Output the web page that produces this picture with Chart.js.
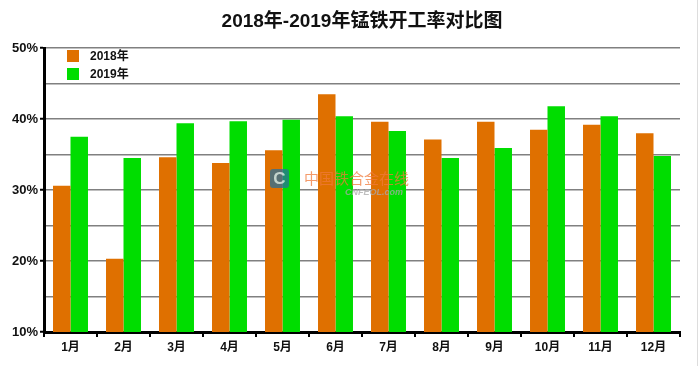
<!DOCTYPE html>
<html>
<head>
<meta charset="utf-8">
<script src="https://cdn.jsdelivr.net/npm/chart.js@4"></script>
<style>
  html, body { margin: 0; padding: 0; background: #fff; }
  #wrap { width: 700px; height: 366px; }
</style>
</head>
<body>
<div id="wrap"><canvas id="graph"></canvas></div>
<script>
// données
const mois = ['1月', '2月', '3月', '4月', '5月', '6月', '7月', '8月', '9月', '10月', '11月', '12月'];
const taux2018 = [30.6, 20.3, 34.6, 33.8, 35.6, 43.5, 39.6, 37.1, 39.6, 38.5, 39.2, 38.0];
const taux2019 = [37.5, 34.5, 39.4, 39.7, 39.9, 40.4, 38.3, 34.5, 35.9, 41.8, 40.4, 34.8];
const titre = '2018年-2019年锰铁开工率对比图';

const police = '"Liberation Sans", Arial, "Noto Sans CJK SC", sans-serif';

// titre, légende et filigrane dessinés à la main
const decor = {
    id: 'decor',
    afterDraw(chart) {
        const ctx = chart.ctx;
        const area = chart.chartArea;
        ctx.save();

        // titre centré sur la zone du graphique
        ctx.fillStyle = '#111';
        ctx.font = 'bold 19px ' + police;
        ctx.textAlign = 'center';
        ctx.textBaseline = 'middle';
        ctx.fillText(titre, (area.left + area.right) / 2, 22);

        // légende dans le coin haut gauche
        ctx.textAlign = 'left';
        ctx.font = 'bold 12px ' + police;
        chart.data.datasets.forEach((ds, i) => {
            const y = 50 + i * 18;
            ctx.fillStyle = ds.backgroundColor;
            ctx.fillRect(67, y, 12, 12);
            ctx.fillStyle = '#111';
            ctx.fillText(ds.label, 90, y + 7);
        });

        // filigrane
        ctx.globalAlpha = 0.75;
        ctx.fillStyle = '#2a6f9a';
        ctx.beginPath();
        ctx.roundRect(270, 169, 19, 19, 3);
        ctx.fill();
        ctx.fillStyle = '#e8f4ea';
        ctx.font = 'bold 17px ' + police;
        ctx.textAlign = 'center';
        ctx.fillText('C', 279.5, 179);
        ctx.fillStyle = '#f07a3a';
        ctx.font = '15px "Noto Sans CJK SC", sans-serif';
        ctx.textAlign = 'left';
        ctx.fillText('中国铁合金在线', 304, 178);
        ctx.fillStyle = '#aaa';
        ctx.font = 'italic bold 9px ' + police;
        ctx.fillText('CNFEOL.com', 345, 193);
        ctx.globalAlpha = 1;

        // bord droit
        ctx.strokeStyle = '#ddd';
        ctx.lineWidth = 1;
        ctx.beginPath();
        ctx.moveTo(697.5, 0);
        ctx.lineTo(697.5, 366);
        ctx.stroke();

        ctx.restore();
    }
};

const ctx = document.getElementById('graph').getContext('2d');
new Chart(ctx, {
    type: 'bar',
    data: {
        labels: mois,
        datasets: [
            {
                label: '2018年',
                data: taux2018,
                backgroundColor: '#df7000',
                borderWidth: 0
            },
            {
                label: '2019年',
                data: taux2019,
                backgroundColor: '#00dd00',
                borderWidth: 0
            }
        ]
    },
    options: {
        responsive: true,
        maintainAspectRatio: false,
        animation: false,
        layout: {
            padding: { top: 48, right: 20, left: 0, bottom: 0 }
        },
        datasets: {
            bar: { categoryPercentage: 0.66, barPercentage: 1 }
        },
        plugins: {
            legend: { display: false },
            title: { display: false },
            tooltip: { enabled: false }
        },
        scales: {
            x: {
                afterFit(scale) { scale.height = 34; },
                border: { color: '#000', width: 3 },
                grid: {
                    offset: true,
                    drawOnChartArea: false,
                    drawTicks: true,
                    tickLength: 5,
                    color: '#000',
                    lineWidth: 2
                },
                ticks: {
                    color: '#111',
                    padding: 3,
                    font: { family: police, size: 12, weight: 'bold' }
                }
            },
            y: {
                min: 10,
                max: 50,
                afterFit(scale) { scale.width = 44; },
                border: { color: '#000', width: 3 },
                grid: {
                    color: '#808080',
                    lineWidth: 1.5,
                    tickColor: ctx => (ctx.tick && ctx.tick.value % 10 === 0 ? '#000' : 'rgba(0,0,0,0)'),
                    tickLength: 4,
                    tickWidth: 2
                },
                ticks: {
                    stepSize: 5,
                    color: '#111',
                    padding: 2,
                    font: { family: police, size: 13, weight: 'bold' },
                    callback: v => (v % 10 === 0 ? v + '%' : '')
                }
            }
        }
    },
    plugins: [decor]
});
</script>
</body>
</html>
